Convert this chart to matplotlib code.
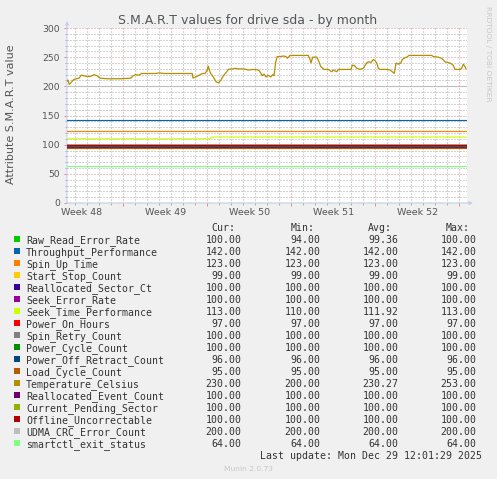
import matplotlib
matplotlib.use('Agg')
import matplotlib.pyplot as plt
from matplotlib.patches import Rectangle

W, H = 497, 479

# ---------------- data ----------------
series_names = ['Raw_Read_Error_Rate', 'Throughput_Performance', 'Spin_Up_Time',
                'Start_Stop_Count', 'Reallocated_Sector_Ct', 'Seek_Error_Rate',
                'Seek_Time_Performance', 'Power_On_Hours', 'Spin_Retry_Count',
                'Power_Cycle_Count', 'Power_Off_Retract_Count', 'Load_Cycle_Count',
                'Temperature_Celsius', 'Reallocated_Event_Count', 'Current_Pending_Sector',
                'Offline_Uncorrectable', 'UDMA_CRC_Error_Count', 'smartctl_exit_status']
series_colors = ['#00CC00', '#0066B3', '#FF8000', '#FFCC00', '#330099', '#990099',
                 '#CCFF00', '#FF0000', '#808080', '#008F00', '#00487D', '#B35A00',
                 '#B38F00', '#6B006B', '#8FB300', '#B30000', '#BEBEBE', '#80FF80']
cur_vals = [100.00, 142.00, 123.00, 99.00, 100.00, 100.00, 113.00, 97.00, 100.00,
            100.00, 96.00, 95.00, 230.00, 100.00, 100.00, 100.00, 200.00, 64.00]
min_vals = [94.00, 142.00, 123.00, 99.00, 100.00, 100.00, 110.00, 97.00, 100.00,
            100.00, 96.00, 95.00, 200.00, 100.00, 100.00, 100.00, 200.00, 64.00]
avg_vals = [99.36, 142.00, 123.00, 99.00, 100.00, 100.00, 111.92, 97.00, 100.00,
            100.00, 96.00, 95.00, 230.27, 100.00, 100.00, 100.00, 200.00, 64.00]
max_vals = [100.00, 142.00, 123.00, 99.00, 100.00, 100.00, 113.00, 97.00, 100.00,
            100.00, 96.00, 95.00, 253.00, 100.00, 100.00, 100.00, 200.00, 64.00]

# constant-level series (None = varying series given below)
const_levels = [100, 142, 123, 99, 100, 100, None, 97, 100,
                100, 96, 95, None, 100, 100, 100, 200, 64]

# time axis in days since Mon Nov 24 2025 (start of week 48)
x_min, x_max = 2.31, 35.64
data_end = 35.56
week_bounds = [7, 14, 21, 28, 35]
week_label_pos = [3.5, 10.5, 17.5, 24.5, 31.5]
week_labels = ['Week 48', 'Week 49', 'Week 50', 'Week 51', 'Week 52']

seek_time_t = [2.31, 14.22, 14.34, 35.56]
seek_time_v = [110, 110, 113, 113]

temp_points = [
    (2.31, 209), (2.39, 211), (2.5, 203), (2.67, 207), (2.89, 212), (3.31, 214),
    (3.5, 219), (3.73, 218), (4.0, 217), (4.28, 217), (4.56, 220), (4.83, 218),
    (5.06, 214), (5.67, 213), (6.23, 213), (6.78, 213), (7.62, 214), (7.81, 218),
    (8.03, 220), (8.31, 219), (8.5, 222), (9.28, 222), (9.7, 222), (9.98, 223),
    (10.39, 222), (11.5, 222), (12.75, 222), (12.81, 214), (13.03, 216), (13.31, 219),
    (13.58, 222), (13.81, 222), (14.0, 228), (14.08, 235), (14.17, 228), (14.28, 222),
    (14.5, 216), (14.73, 208), (14.92, 206), (15.12, 210), (15.33, 218), (15.62, 225),
    (15.75, 229), (16.17, 230), (16.31, 231), (16.58, 230), (17.0, 230), (17.42, 228),
    (17.83, 229), (18.25, 228), (18.39, 225), (18.58, 218), (18.73, 221), (18.89, 216),
    (19.08, 219), (19.28, 216), (19.45, 220), (19.56, 218), (19.7, 242), (19.83, 251),
    (20.06, 251), (20.33, 252), (20.56, 251), (20.67, 248), (20.89, 253), (21.73, 253),
    (22.42, 253), (22.56, 246), (22.64, 240), (22.78, 250), (23.12, 250), (23.25, 245),
    (23.45, 234), (23.73, 229), (24.08, 229), (24.37, 225), (24.5, 228), (24.78, 225),
    (24.92, 229), (25.98, 229), (26.08, 236), (26.25, 236), (26.45, 231), (26.73, 229),
    (27.0, 231), (27.28, 240), (27.42, 242), (27.64, 241), (27.83, 246), (27.97, 244),
    (28.12, 240), (28.25, 231), (28.39, 229), (28.95, 229), (29.22, 228), (29.42, 225),
    (29.58, 222), (29.73, 240), (29.92, 238), (30.12, 240), (30.25, 246), (30.47, 249),
    (30.62, 250), (30.81, 253), (32.7, 253), (32.83, 251), (33.25, 250), (33.53, 248),
    (33.81, 242), (34.22, 240), (34.5, 236), (34.64, 229), (35.06, 229), (35.2, 231),
    (35.33, 238), (35.47, 234), (35.56, 230),
]
temp_t = [p[0] for p in temp_points]
temp_v = [p[1] for p in temp_points]

y_major = list(range(0, 301, 50))
y_minor = list(range(0, 301, 10))

title = 'S.M.A.R.T values for drive sda - by month'
ylabel = 'Attribute S.M.A.R.T value'
last_update = 'Last update: Mon Dec 29 12:01:29 2025'

# ---------------- figure ----------------
fig = plt.figure(figsize=(W / 100, H / 100), dpi=100, facecolor='#F0F0F0')
ax = fig.add_axes([67 / W, 1 - 203 / H, 400 / W, 175 / H], facecolor='white')

ax.set_xlim(x_min, x_max)
ax.set_ylim(0, 300)

minor_days = [d for d in range(3, 36)]
ax.set_xticks(week_bounds)
ax.set_xticks(minor_days, minor=True)
ax.set_xticklabels([])
ax.set_yticks(y_major)
ax.set_yticks(y_minor, minor=True)
ax.set_yticklabels([str(v) for v in y_major])

minor_col = '#A8A8A8'
major_col = '#D88C8C'
ax.grid(which='minor', color=minor_col, linestyle=(0, (1, 2)), linewidth=0.72)
ax.grid(which='major', color=major_col, linestyle=(0, (1, 2)), linewidth=0.72)
ax.set_axisbelow(True)

ax.tick_params(axis='y', which='major', length=2.5, width=0.7, color=major_col,
               labelsize=6.7, labelcolor='#555555', pad=2.6)
ax.tick_params(axis='y', which='minor', length=1.5, width=0.7, color=minor_col)
ax.tick_params(axis='x', which='major', length=2.5, width=0.7, color=major_col)
ax.tick_params(axis='x', which='minor', length=1.5, width=0.7, color=minor_col)
for lab in ax.get_yticklabels():
    lab.set_fontfamily('DejaVu Sans')

for pos, lab in zip(week_label_pos, week_labels):
    ax.annotate(lab, xy=(pos, 0), xycoords=('data', 'axes fraction'),
                xytext=(0, -3.7), textcoords='offset points',
                ha='center', va='top', fontsize=6.8, color='#555555',
                family='DejaVu Sans', annotation_clip=False)

for s in ax.spines.values():
    s.set_visible(False)

# series
for name, color, lvl in zip(series_names, series_colors, const_levels):
    if name == 'Temperature_Celsius':
        ax.plot(temp_t, temp_v, color=color, lw=0.9, solid_joinstyle='miter')
    elif name == 'Seek_Time_Performance':
        ax.plot(seek_time_t, seek_time_v, color=color, lw=0.85)
    else:
        ax.plot([x_min, data_end], [lvl, lvl], color=color, lw=0.85)

ax.axhline(0, color='#80FF80', lw=1.0, linestyle=(0, (3.6, 3.6)), zorder=3)

# axis lines with arrows
axis_col = '#C8CCF0'
ax.annotate('', xy=(0, 1 + 7 / 175), xytext=(0, 0), xycoords='axes fraction',
            arrowprops=dict(arrowstyle='-|>', color=axis_col, lw=0.8,
                            mutation_scale=5, shrinkA=0, shrinkB=0),
            annotation_clip=False, zorder=1)
ax.annotate('', xy=(1 + 6 / 400, 0), xytext=(0, 0), xycoords='axes fraction',
            arrowprops=dict(arrowstyle='-|>', color=axis_col, lw=0.8,
                            mutation_scale=5, shrinkA=0, shrinkB=0),
            annotation_clip=False, zorder=1)

# texts
def fx(x):
    return x / W

def fy(y):
    return 1 - y / H

fig.text(fx(248), fy(24.3), title, ha='center', va='baseline', fontsize=9,
         color='#555555', family='DejaVu Sans')
fig.text(fx(11), fy(114.3), ylabel, ha='center', va='center', rotation=90,
         fontsize=8, color='#555555', family='DejaVu Sans')
fig.text(fx(488), fy(53.4), 'RRDTOOL / TOBI OETIKER', ha='center', va='center',
         rotation=270, fontsize=5.4, color='#C8C8C8', family='DejaVu Sans')
fig.text(fx(248), fy(470.7), 'Munin 2.0.73', ha='center', va='baseline',
         fontsize=5.4, color='#C8C8C8', family='DejaVu Sans')

mono = 'DejaVu Sans Mono'
fs = 7.15
tcol = '#333333'
col_right = [241.7, 320.7, 398.7, 476.7]
head_right = [235, 314.3, 392.3, 470]
for xr, h in zip(head_right, ['Cur:', 'Min:', 'Avg:', 'Max:']):
    fig.text(fx(xr), fy(231.3), h, ha='right', va='baseline', fontsize=fs,
             color=tcol, family=mono)

for i, (name, color) in enumerate(zip(series_names, series_colors)):
    base = 242.7 + 12 * i
    fig.add_artist(Rectangle((fx(14), fy(base - 0.3)), 6 / W, 6 / H,
                             transform=fig.transFigure, facecolor=color,
                             edgecolor='none'))
    fig.text(fx(26), fy(base), name, ha='left', va='baseline', fontsize=fs,
             color=tcol, family=mono)
    for xr, vals in zip(col_right, [cur_vals, min_vals, avg_vals, max_vals]):
        fig.text(fx(xr), fy(base), f'{vals[i]:.2f}', ha='right', va='baseline',
                 fontsize=fs, color=tcol, family=mono)

fig.text(fx(482.3), fy(458.7), last_update, ha='right', va='baseline', fontsize=fs,
         color=tcol, family=mono)

fig.savefig('out.png', dpi=100, facecolor=fig.get_facecolor())
